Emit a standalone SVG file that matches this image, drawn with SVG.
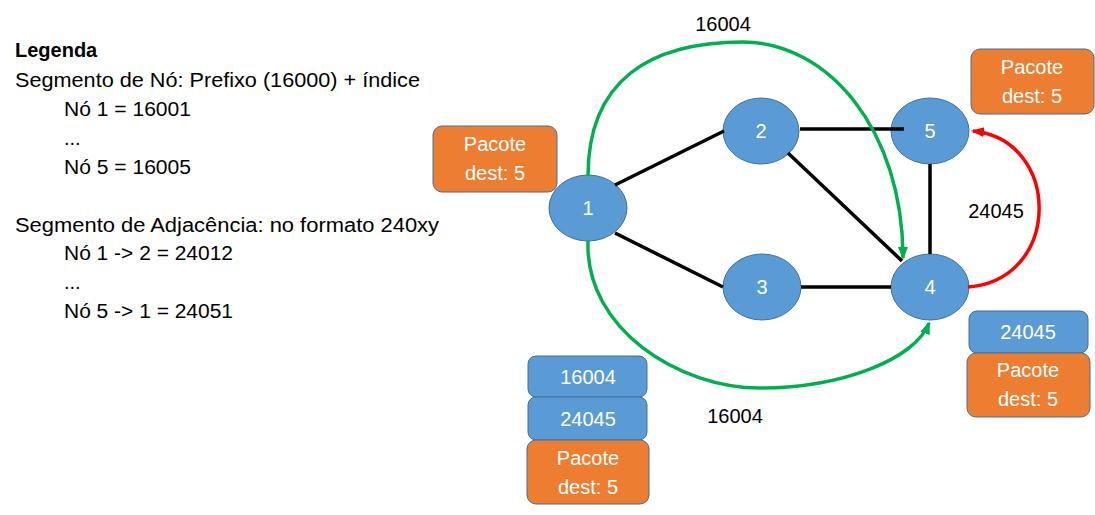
<svg xmlns="http://www.w3.org/2000/svg" width="1095" height="515" viewBox="0 0 1095 515">
<style>
text{font-family:"Liberation Sans",Arial,sans-serif;font-size:20px}
.lg{fill:#000}
.nd{fill:#5B9BD5;stroke:#41719C;stroke-width:1}
.nt{fill:#fff;text-anchor:middle}
.bb{fill:#5B9BD5;stroke:#41719C;stroke-width:1}
.ob{fill:#ED7D31;stroke:#41719C;stroke-width:1}
.e{stroke:#000;stroke-width:3.5;fill:none}
.g{stroke:#00B050;stroke-width:3.5;fill:none;marker-end:url(#ag)}
.r{stroke:#FF0000;stroke-width:3.5;fill:none;marker-end:url(#ar)}
.lb{fill:#000;text-anchor:middle}
</style>
<defs>
<marker id="ag" markerUnits="userSpaceOnUse" markerWidth="14" markerHeight="12" refX="11" refY="5" orient="auto"><path d="M0,0 L13,5 L0,10 z" fill="#00B050"/></marker>
<marker id="ar" markerUnits="userSpaceOnUse" markerWidth="14" markerHeight="12" refX="11" refY="5" orient="auto"><path d="M0,0 L13,5 L0,10 z" fill="#FF0000"/></marker>
</defs>
<rect width="1095" height="515" fill="#fff"/>
<g id="legend" class="lg">
<text x="15" y="57" font-weight="bold">Legenda</text>
<text x="15" y="87" textLength="405" lengthAdjust="spacingAndGlyphs">Segmento de Nó: Prefixo (16000) + índice</text>
<text x="64" y="116" textLength="127" lengthAdjust="spacingAndGlyphs">Nó 1 = 16001</text>
<text x="64" y="145">...</text>
<text x="64" y="174" textLength="127" lengthAdjust="spacingAndGlyphs">Nó 5 = 16005</text>
<text x="15" y="232" textLength="424" lengthAdjust="spacingAndGlyphs">Segmento de Adjacência: no formato 240xy</text>
<text x="64" y="260" textLength="169" lengthAdjust="spacingAndGlyphs">Nó 1 -&gt; 2 = 24012</text>
<text x="64" y="289">...</text>
<text x="64" y="318" textLength="169" lengthAdjust="spacingAndGlyphs">Nó 5 -&gt; 1 = 24051</text>
</g>
<g id="n1"><ellipse class="nd" cx="588" cy="208" rx="39" ry="33"/><text class="nt" x="588" y="215">1</text></g>
<g id="n2"><ellipse class="nd" cx="761" cy="131" rx="38" ry="33"/><text class="nt" x="761" y="138">2</text></g>
<g id="n3"><ellipse class="nd" cx="762" cy="287" rx="39" ry="33"/><text class="nt" x="762" y="294">3</text></g>
<g id="n4"><ellipse class="nd" cx="930" cy="287" rx="39" ry="33"/><text class="nt" x="930" y="294">4</text></g>
<g id="n5"><ellipse class="nd" cx="930" cy="131" rx="39" ry="33"/><text class="nt" x="930" y="138">5</text></g>
<g id="connectors">
<line class="e" x1="615" y1="185" x2="724" y2="131"/>
<line class="e" x1="615" y1="233" x2="723" y2="287"/>
<line class="e" x1="800" y1="129" x2="904" y2="129"/>
<line class="e" x1="788" y1="153" x2="902" y2="261"/>
<line class="e" x1="801" y1="287" x2="891" y2="287"/>
<line class="e" x1="930" y1="164" x2="930" y2="254"/>
<path class="g" d="M588,176 C588,80 650,42 743,42 C828,42 903,130 903,258"/>
<path class="g" d="M588,241 C585,330 680,388 760,388 C840,388 915,360 929,323"/>
<path class="r" d="M968,287 C1062,280 1062,140 973,131"/>
<text class="lb" x="723" y="31">16004</text>
<text class="lb" x="735" y="423">16004</text>
<text class="lb" x="996" y="218">24045</text>
</g>
<g id="pkt1"><rect class="ob" x="433" y="126" width="124" height="66" rx="9"/><text class="nt" x="495" y="151">Pacote</text><text class="nt" x="495" y="180">dest: 5</text></g>
<g id="pkt5"><rect class="ob" x="971" y="49" width="123" height="65" rx="9"/><text class="nt" x="1032" y="74">Pacote</text><text class="nt" x="1032" y="103">dest: 5</text></g>
<g id="stack4">
<rect class="bb" x="969" y="311" width="119" height="42" rx="8"/><text class="nt" x="1028" y="339">24045</text>
<rect class="ob" x="967" y="353" width="123" height="64" rx="9"/><text class="nt" x="1028" y="377">Pacote</text><text class="nt" x="1028" y="406">dest: 5</text>
</g>
<g id="stack1">
<rect class="bb" x="528" y="356" width="119" height="41" rx="8"/><text class="nt" x="588" y="384">16004</text>
<rect class="bb" x="528" y="397" width="119" height="43" rx="8"/><text class="nt" x="588" y="426">24045</text>
<rect class="ob" x="527" y="440" width="122" height="64" rx="9"/><text class="nt" x="588" y="465">Pacote</text><text class="nt" x="588" y="494">dest: 5</text>
</g>
</svg>
